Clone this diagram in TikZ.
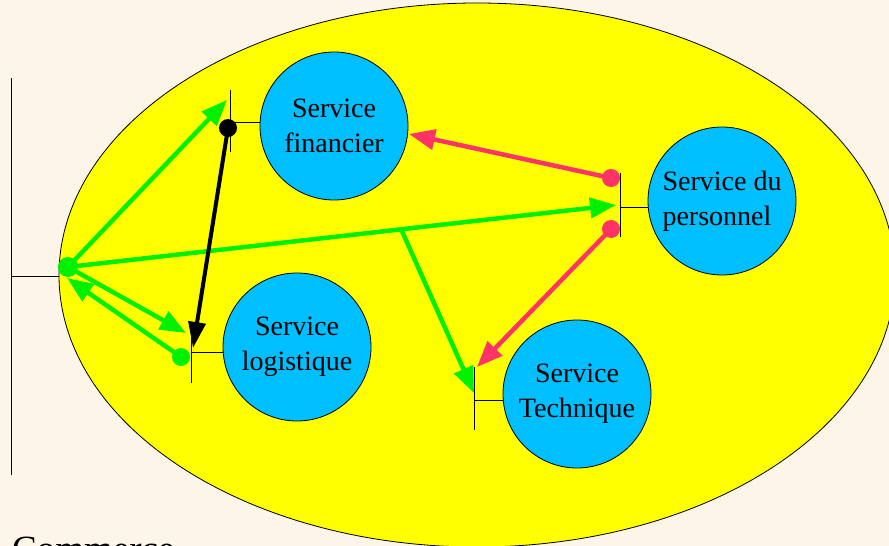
\documentclass[tikz,border=0pt]{standalone}
\usepackage{fontspec}
\setmainfont{Liberation Serif}
\usetikzlibrary{arrows.meta,calc}
\definecolor{bgcream}{HTML}{FDF5E8}
\definecolor{zone}{HTML}{FFFF00}
\definecolor{svc}{HTML}{00BFFF}
\definecolor{flowgreen}{HTML}{00F000}
\definecolor{flowred}{HTML}{FF3366}
\begin{document}
\begin{tikzpicture}[x=1pt,y=-1pt,
  service/.style={circle,draw=black,line width=0.8pt,fill=svc,minimum size=148pt,
    inner sep=0pt,font=\fontsize{28}{35}\selectfont,align=center},
  portbar/.style={draw=black,line width=1pt},
  gflow/.style={draw=flowgreen,line width=4.5pt,-{Triangle[length=26pt,width=20pt]}},
  rflow/.style={draw=flowred,line width=4.5pt,-{Triangle[length=26pt,width=20pt]}},
  kflow/.style={draw=black,line width=4pt,-{Triangle[length=26pt,width=17pt]}}]
\useasboundingbox (0,0) rectangle (889,546);
\clip (0,0) rectangle (889,546);
\fill[bgcream] (0,0) rectangle (889,546);

% domain boundary
\draw[fill=zone,line width=0.8pt] (477,275) ellipse [x radius=418, y radius=272];

% external actor bar
\coordinate (extTop) at (11,78);
\coordinate (extBot) at (11,475);
\coordinate (extMid) at (11,276);
\coordinate (extEdge) at (59,276);
\draw[portbar] (extTop) -- (extBot);
\draw[portbar] (extMid) -- (extEdge);

% services
\node[service] (fin) at (334,126) {Service\\financier};
\node[service,align=left] (pers) at (722,201) {Service du\\personnel};
\node[service] (log) at (297,347) {Service\\logistique};
\node[service] (tech) at (577,394) {Service\\Technique};

% ports
\coordinate (finA) at (230,90);  \coordinate (finB) at (230,152); \coordinate (finP) at (230,122);
\coordinate (persA) at (620,173); \coordinate (persB) at (620,237); \coordinate (persP) at (620,207);
\coordinate (logA) at (191,333); \coordinate (logB) at (191,383); \coordinate (logP) at (191,352);
\coordinate (techA) at (474,367); \coordinate (techB) at (474,430); \coordinate (techP) at (474,400);
\draw[portbar] (finA) -- (finB);   \draw[portbar] (finP) -- (finP -| fin.west);
\draw[portbar] (persA) -- (persB); \draw[portbar] (persP) -- (persP -| pers.west);
\draw[portbar] (logA) -- (logB);   \draw[portbar] (logP) -- (logP -| log.west);
\draw[portbar] (techA) -- (techB); \draw[portbar] (techP) -- (techP -| tech.west);

% flow end points
\coordinate (hub) at (68,267);
\coordinate (hubIn) at (67,278);
\coordinate (finIn) at (227,100);
\coordinate (finOut) at (228,128);
\coordinate (logIn) at (186,333);
\coordinate (logInK) at (193,348);
\coordinate (logOut) at (181,357);
\coordinate (persIn) at (616,205);
\coordinate (persOut1) at (611,178);
\coordinate (persOut2) at (611,229);
\coordinate (finRed) at (409,134);
\coordinate (techRed) at (477,367);
\coordinate (techIn) at (474,393);
\coordinate (branch) at ($(hub)!0.608!(persIn)$);

% green flows
\draw[gflow] (hub) -- (finIn);
\draw[gflow] (hub) -- (logIn);
\draw[gflow] (logOut) -- (hubIn);
\draw[gflow] (hub) -- (persIn);
\draw[gflow] (branch) -- (techIn);
\fill[flowgreen] (hub) circle (10pt);
\fill[flowgreen] (logOut) circle (9pt);

% black flow
\draw[kflow] (finOut) -- (logInK);
\fill[black] (finOut) circle (9pt);

% red flows
\draw[rflow] (persOut1) -- (finRed);
\draw[rflow] (persOut2) -- (techRed);
\fill[flowred] (persOut1) circle (9pt);
\fill[flowred] (persOut2) circle (9pt);

% caption
\node[anchor=base west,inner sep=0pt,font=\fontsize{37}{40}\selectfont] (caption) at (12,561) {Commerce};
\end{tikzpicture}
\end{document}
